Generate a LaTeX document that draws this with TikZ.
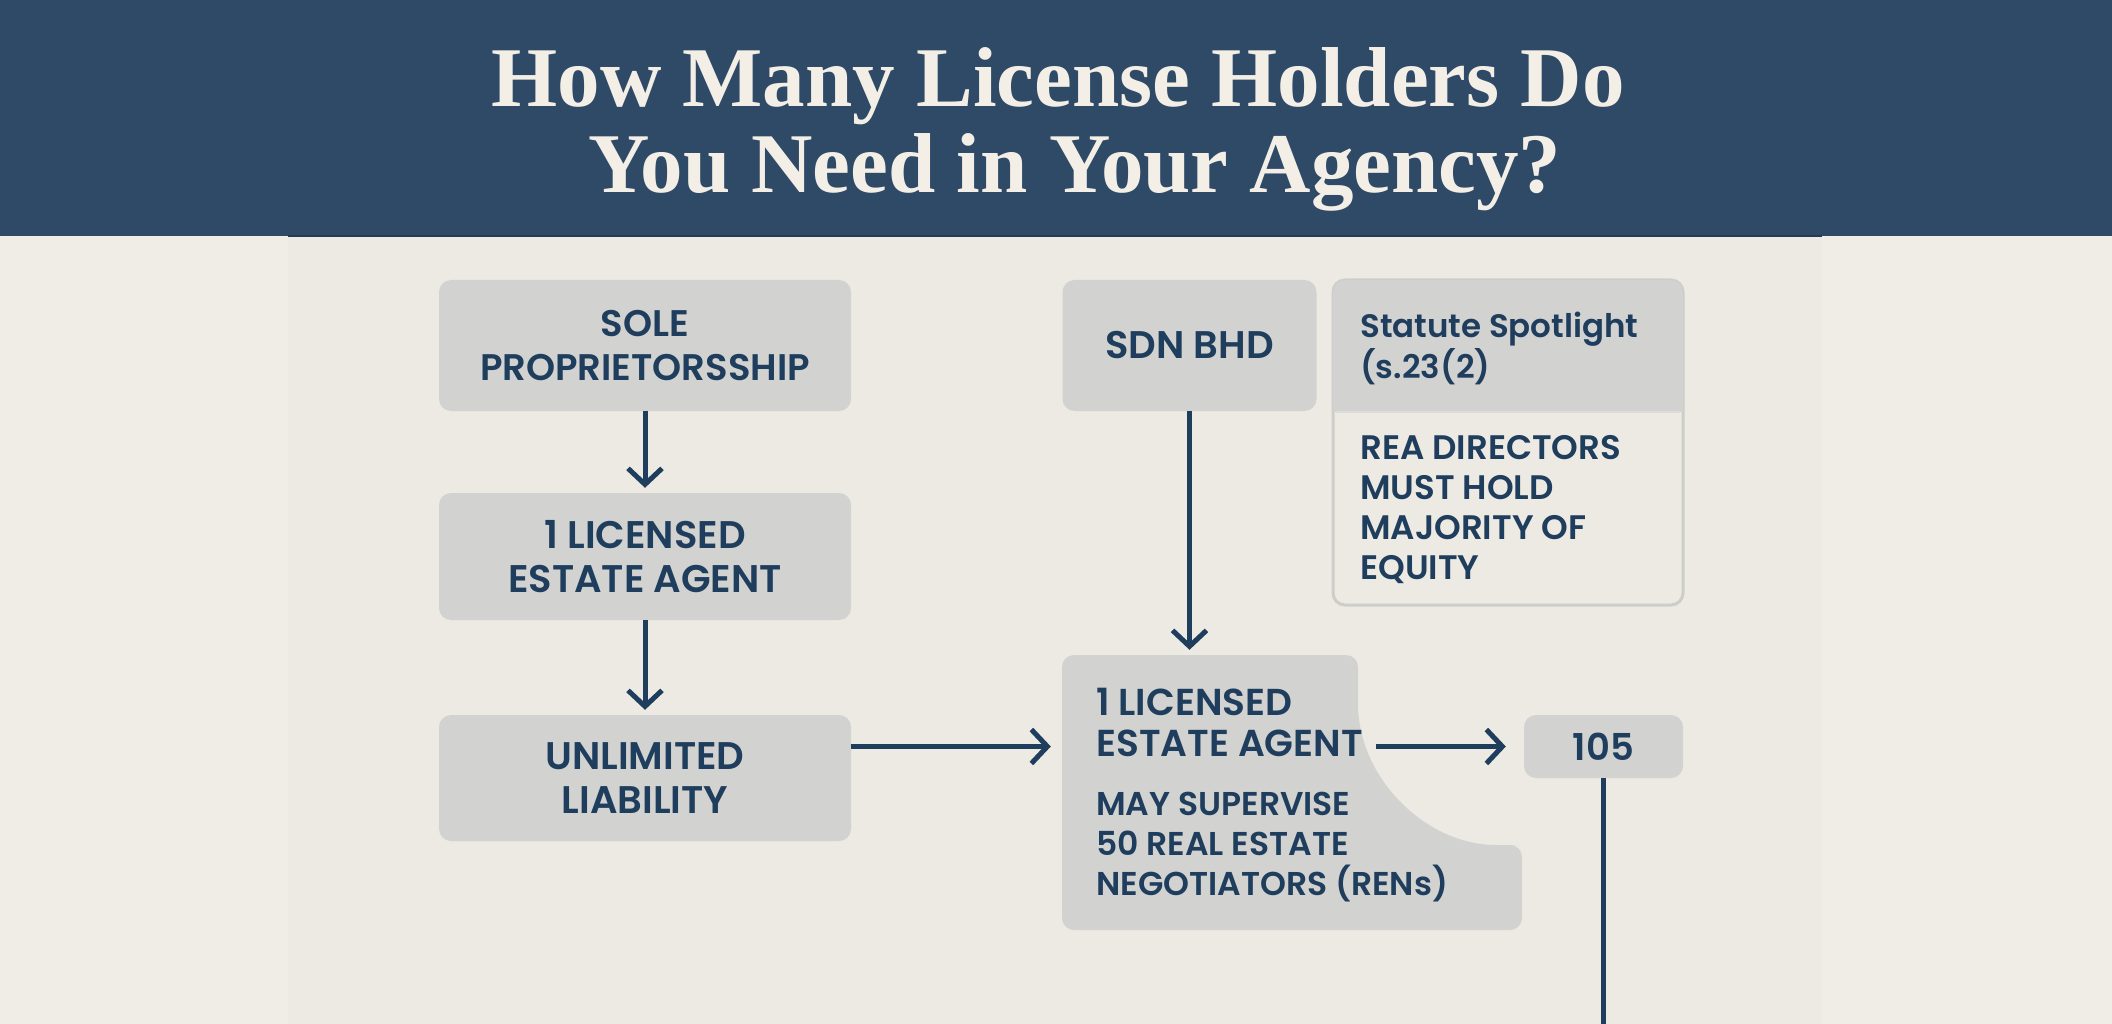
\documentclass[tikz,border=0pt]{standalone}
\usepackage{fontspec}
\setmainfont{Liberation Serif}
\setsansfont{Poppins}[BoldFont={Poppins SemiBold}]
\usetikzlibrary{arrows.meta}
\definecolor{navy}{HTML}{2F4A67}
\definecolor{ink}{HTML}{1F3D5C}
\definecolor{paper}{HTML}{F0ECE6}
\definecolor{panel}{HTML}{EDEAE3}
\definecolor{boxgrey}{HTML}{D2D2D0}
\definecolor{cream}{HTML}{F3EFE6}
\definecolor{rim}{HTML}{CDCDCA}
\tikzset{
	box/.style={fill=boxgrey, rounded corners=12pt, inner sep=0pt, text=ink, align=center,
		font=\sffamily\bfseries\fontsize{38.5}{44}\selectfont},
	notetext/.style={inner sep=0pt, anchor=west, align=left, text=ink,
		font=\sffamily\bfseries\fontsize{33}{40}\selectfont},
	headline/.style={inner sep=0pt, anchor=base, text=cream,
		font=\rmfamily\bfseries\fontsize{85}{87}\selectfont},
	flow/.style={line width=5pt, draw=ink, -{Straight Barb[length=16pt,width=34pt]}}
}
\begin{document}
\begin{tikzpicture}[x=1pt,y=-1pt]
	\useasboundingbox (0,0) rectangle (2112,1024);
	
	% Draw the paper and the header band
	\fill[paper] (0,0) rectangle (2112,1024);
	\fill[panel] (288,236) rectangle (1822,1024);
	\fill[navy] (0,0) rectangle (2112,236);
	\draw[navy!80!black, line width=2pt] (288,236) -- (1822,236);
	
	% Title
	\node[headline] (title1) at (1058,107) {How Many License Holders Do};
	\node[headline] (title2) at (1075,193) {You Need in Your Agency?};
	
	% Left column
	\node[box, minimum width=412pt, minimum height=131pt, font=\sffamily\bfseries\fontsize{37}{44}\selectfont] (sole) at (645,345.5) {SOLE\\PROPRIETORSSHIP};
	\node[box, minimum width=412pt, minimum height=127pt] (licensed) at (645,556.5) {1 LICENSED\\ESTATE AGENT};
	\node[box, minimum width=412pt, minimum height=126pt] (unlimited) at (645,778) {UNLIMITED\\LIABILITY};
	
	% Right column
	\node[box, minimum width=254pt, minimum height=131pt] (sdn) at (1189.5,345.5) {SDN BHD};
	
	% Statute spotlight card
	\draw[rim, fill=panel, line width=3pt, rounded corners=12pt] (1333,280) rectangle (1683,605);
	\begin{scope}
		\clip[rounded corners=12pt] (1333,280) rectangle (1683,605);
		\fill[boxgrey] (1333,280) rectangle (1683,412);
	\end{scope}
	\draw[rim!70!white, line width=2pt] (1336,412) -- (1680,412);
	\node[notetext, font=\sffamily\bfseries\fontsize{32.5}{41}\selectfont] (statute) at (1360,348) {Statute Spotlight\\(s.23(2)};
	\node[notetext, font=\sffamily\bfseries\fontsize{34}{40}\selectfont] (rule) at (1360,510) {REA DIRECTORS\\MUST HOLD\\MAJORITY OF\\EQUITY};
	
	% Agent card with the scooped corner
	\fill[boxgrey, rounded corners=12pt] (1062,655) -- (1358,655) -- (1358,692)
		.. controls (1358,777) and (1425,845) .. (1508,845) -- (1522,845) -- (1522,930) -- (1062,930) -- cycle;
	\node[inner sep=0pt, minimum width=460pt, minimum height=275pt] (agentcard) at (1292,792.5) {};
	\node[notetext, font=\sffamily\bfseries\fontsize{37.5}{41}\selectfont] (agent) at (1096,722.5) {1 LICENSED\\ESTATE AGENT};
	\node[notetext] (supervise) at (1096,847) {MAY SUPERVISE\\50 REAL ESTATE\\NEGOTIATORS (RENs)};
	\node[box, minimum width=159pt, minimum height=63pt, font=\sffamily\bfseries\fontsize{37}{40}\selectfont] (one05) at (1603.5,746.5) {105};
	
	% Connectors
	\draw[flow, shorten >=5pt] (sole) -- (licensed);
	\draw[flow, shorten >=5pt] (licensed) -- (unlimited);
	\draw[flow, shorten >=5pt] (sdn) -- (sdn |- agentcard.north);
	\draw[flow, shorten >=11pt] (unlimited.east |- one05.west) -- (agentcard.west |- one05.west);
	\draw[flow, shorten <=13pt, shorten >=18pt] (agent.east |- one05.west) -- (one05.west);
	\coordinate (drop) at (1603.5,1024);
	\draw[line width=5pt, ink] (one05) -- (drop);
\end{tikzpicture}
\end{document}
